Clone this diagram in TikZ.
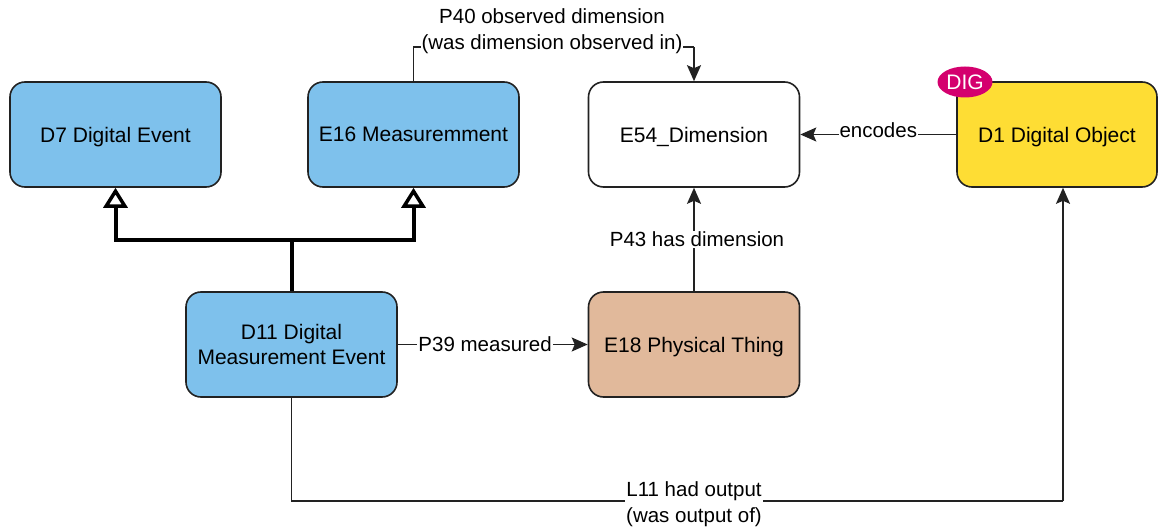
\documentclass[tikz,border=0pt]{standalone}
\usepackage{fontspec}
\setmainfont{Liberation Sans}
\usetikzlibrary{arrows.meta,shapes.geometric}
\definecolor{blueb}{RGB}{126,193,236}
\definecolor{tanb}{RGB}{225,185,155}
\definecolor{yellowb}{RGB}{254,221,52}
\definecolor{digc}{RGB}{212,0,110}
\definecolor{edge}{RGB}{34,34,34}
\tikzset{
  box/.style={draw=edge, line width=1.6pt, rounded corners=15pt, minimum width=211pt, minimum height=105pt, inner sep=0pt, align=center, text depth=0pt, font=\fontsize{21}{25}\selectfont},
  rel/.style={draw=edge, line width=1.5pt, -{Stealth[length=16pt,width=14pt,inset=3pt]}},
  plain/.style={draw=edge, line width=1.5pt},
  isa/.style={draw=black, line width=4pt, -{Triangle[open,length=20pt,width=24pt,line width=3.5pt]}},
  lbl/.style={fill=white, inner sep=1pt, align=center, font=\fontsize{20.5}{26}\selectfont},
}
\begin{document}
\begin{tikzpicture}[x=1pt,y=-1pt]
\useasboundingbox (0,0) rectangle (1158,529);
\node[box, fill=blueb] (d7) at (115.5,134.5) {D7 Digital Event};
\node[box, fill=blueb] (e16) at (413.5,134.5) {E16 Measuremment};
\node[box, fill=white] (e54) at (694,134.5) {E54\_Dimension};
\node[box, fill=yellowb, minimum width=200pt] (d1) at (1057,134.5) {D1 Digital Object};
\node[ellipse, fill=digc, minimum width=55pt, minimum height=31pt, inner sep=0pt, text=white, font=\fontsize{21}{25}\selectfont] (dig) at (965,82) {DIG};
\node[box, fill=blueb] (d11) at (291.5,344.5) {D11 Digital\\Measurement Event};
\node[box, fill=tanb] (e18) at (694,344.5) {E18 Physical Thing};
% inheritance
\coordinate (j) at (291.5,240);
\draw[line width=4pt] (d11.north) -- (j);
\draw[isa] (j) -| (d7.south);
\draw[isa] (j) -| (e16.south);
% P40
\coordinate (p40a) at (413.5,47);
\coordinate (p40b) at (694,47);
\draw[plain] (e16.north) -- (p40a) -- (p40b);
\draw[rel] (p40b) -- (e54.north);
\node[lbl] (p40) at (552,31) {P40 observed dimension\\(was dimension observed in)};
% encodes
\draw[rel] (d1.west) -- (e54.east) node[lbl, pos=0.5, yshift=4pt] (enc) {encodes};
% P43
\draw[rel] (e18.north) -- (e54.south) node[lbl, pos=0.5, xshift=3pt] (p43) {P43 has dimension};
% P39
\draw[rel] (d11.east) -- (e18.west) node[lbl, pos=0.46] (p39) {P39 measured};
% L11
\coordinate (l11a) at (291.5,501);
\coordinate (l11b) at (1063,501);
\draw[plain] (d11.south) -- (l11a) -- (l11b);
\draw[rel] (l11b) -- (d1.south -| l11b);
\node[lbl] (l11) at (694,504) {L11 had output\\(was output of)};
\end{tikzpicture}
\end{document}
